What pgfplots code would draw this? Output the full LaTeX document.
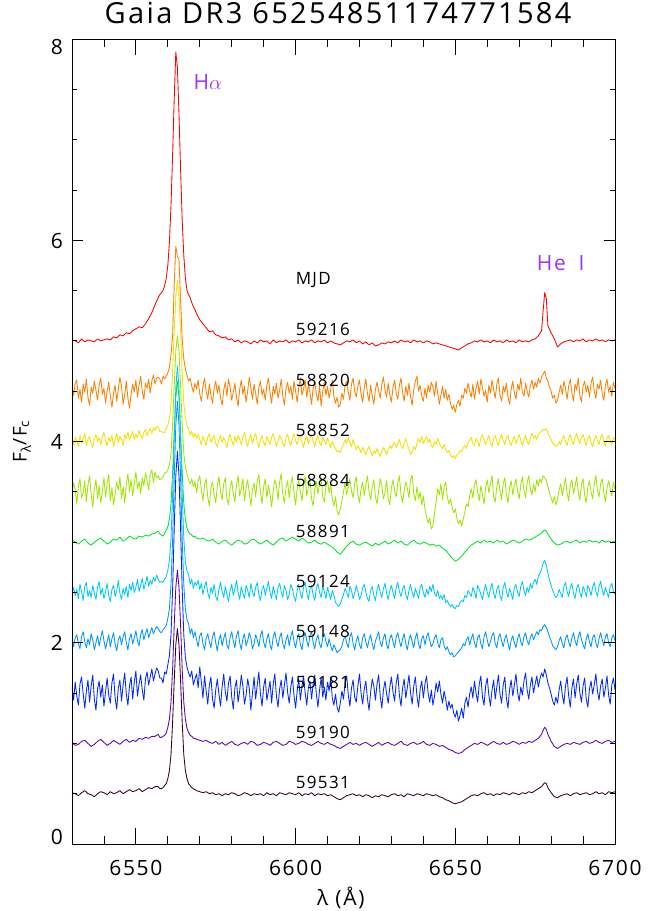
\documentclass[border=0pt]{standalone}
\usepackage{fontspec}
\setmainfont{Open Sans}[LetterSpace=8]
\usepackage{pgfplots}
\usepackage{pgfplotstable}
\pgfplotsset{compat=1.18}
\definecolor{cA}{RGB}{255,0,0}
\definecolor{cB}{RGB}{255,128,0}
\definecolor{cC}{RGB}{245,225,0}
\definecolor{cD}{RGB}{160,230,0}
\definecolor{cE}{RGB}{0,230,40}
\definecolor{cF}{RGB}{0,200,255}
\definecolor{cG}{RGB}{0,150,255}
\definecolor{cH}{RGB}{0,40,255}
\definecolor{cI}{RGB}{90,0,180}
\definecolor{cJ}{RGB}{50,0,40}
\definecolor{lbl}{RGB}{153,51,255}
% smoother spectra: 59216 (a), 58891 (e), 59190 (i), 59531 (j)
\pgfplotstableread{
x a e i j
6530 5.01 3.02 1.01 0.51
6531 5.00 3.00 0.98 0.50
6532 4.98 2.98 0.99 0.48
6533 5.02 3.01 1.02 0.51
6534 4.99 3.03 1.03 0.53
6535 5.01 2.99 1.00 0.50
6536 5.00 2.97 0.97 0.49
6537 4.99 3.00 0.99 0.47
6538 5.02 3.02 1.02 0.50
6539 5.00 3.04 1.04 0.52
6540 5.01 3.01 1.01 0.51
6541 5.02 2.98 0.98 0.49
6542 5.01 3.00 1.00 0.52
6543 5.04 3.03 1.03 0.50
6544 5.03 3.02 1.01 0.51
6545 5.06 3.05 0.99 0.53
6546 5.05 3.01 1.02 0.50
6547 5.08 3.03 1.04 0.52
6548 5.07 3.06 1.01 0.54
6549 5.10 3.04 1.03 0.52
6550 5.12 3.03 1.02 0.53
6551 5.14 3.06 1.05 0.55
6552 5.13 3.05 1.04 0.52
6553 5.17 3.07 1.06 0.54
6554 5.22 3.06 1.05 0.56
6555 5.28 3.08 1.07 0.55
6556 5.36 3.09 1.07 0.57
6557 5.43 3.11 1.09 0.57
6557.5 5.46 3.08 1.06 0.55
6558 5.48 3.07 1.06 0.55
6558.5 5.50 3.06 1.07 0.56
6559 5.55 3.09 1.08 0.58
6559.5 5.62 3.12 1.10 0.60
6560 5.75 3.15 1.16 0.65
6560.5 5.98 3.23 1.24 0.73
6561 6.35 3.38 1.41 0.89
6561.5 6.85 3.69 1.74 1.21
6562 7.40 4.09 2.17 1.62
6562.5 7.87 4.44 2.55 1.98
6563 7.72 4.60 2.72 2.14
6563.5 7.25 4.44 2.55 1.98
6564 6.70 4.09 2.17 1.62
6564.5 6.20 3.69 1.74 1.21
6565 5.85 3.38 1.41 0.89
6565.5 5.62 3.22 1.24 0.73
6566 5.50 3.14 1.15 0.65
6566.5 5.46 3.10 1.11 0.60
6567 5.43 3.08 1.08 0.58
6567.5 5.38 3.07 1.07 0.56
6568 5.34 3.05 1.05 0.55
6568.5 5.31 3.06 1.05 0.54
6569 5.27 3.04 1.04 0.53
6570 5.21 3.03 1.03 0.52
6571 5.17 3.04 1.02 0.51
6572 5.13 3.02 1.03 0.52
6573 5.09 3.01 1.01 0.50
6574 5.10 3.03 1.00 0.51
6575 5.06 3.00 1.02 0.49
6576 5.05 2.98 0.99 0.50
6577 5.03 3.01 1.01 0.48
6578 5.04 3.02 0.98 0.50
6579 5.01 2.99 1.00 0.49
6580 5.02 2.97 1.02 0.51
6581 4.99 3.00 0.99 0.50
6582 5.01 3.02 0.98 0.48
6583 4.98 3.01 1.00 0.49
6584 5.00 2.98 1.01 0.51
6585 4.99 2.99 0.99 0.50
6586 4.97 3.02 1.02 0.48
6587 5.00 3.03 1.01 0.50
6588 4.98 3.00 0.98 0.49
6589 5.01 2.98 0.99 0.50
6590 4.99 3.00 1.01 0.48
6591 5.00 3.02 1.00 0.51
6592 4.97 2.99 0.98 0.49
6593 5.01 2.97 1.01 0.50
6594 4.98 3.00 1.02 0.48
6595 5.00 3.03 1.00 0.51
6596 4.99 3.04 0.98 0.50
6597 5.01 3.01 0.99 0.49
6598 4.98 3.03 1.02 0.51
6599 5.00 3.05 1.01 0.50
6600 4.99 3.03 0.99 0.49
6601 5.01 3.01 1.00 0.51
6602 4.98 3.04 1.02 0.48
6603 5.00 3.02 1.01 0.50
6604 4.99 2.99 0.99 0.49
6605 5.01 3.00 0.98 0.51
6606 4.98 3.02 1.00 0.48
6607 5.00 2.99 1.02 0.50
6608 4.99 2.98 1.00 0.49
6609 5.01 3.00 0.99 0.50
6610 4.98 2.98 1.01 0.48
6611 5.00 2.96 0.99 0.49
6612 4.98 2.94 0.98 0.47
6613 4.97 2.90 0.96 0.45
6614 4.96 2.88 0.95 0.44
6615 4.98 2.92 0.97 0.46
6616 5.00 2.96 0.99 0.48
6617 4.99 2.99 1.01 0.49
6618 5.01 3.01 0.99 0.50
6619 4.98 2.98 1.00 0.48
6620 5.00 2.97 0.98 0.49
6621 4.97 2.99 1.00 0.47
6622 4.99 3.00 1.01 0.49
6623 4.96 2.98 0.99 0.48
6624 4.98 2.96 0.97 0.46
6625 4.95 2.99 0.99 0.48
6626 4.96 2.97 1.01 0.47
6627 4.98 2.99 0.98 0.49
6628 4.97 3.01 1.00 0.48
6629 4.99 2.98 1.01 0.47
6630 4.98 3.00 0.99 0.49
6631 5.00 3.02 0.98 0.50
6632 4.98 2.99 1.00 0.48
6633 5.01 3.01 1.02 0.49
6634 4.99 2.98 0.99 0.47
6635 5.00 2.97 0.98 0.50
6636 4.98 3.00 1.00 0.49
6637 5.01 3.02 1.01 0.48
6638 4.99 2.99 0.99 0.50
6639 5.00 2.98 1.00 0.49
6640 4.98 3.00 1.02 0.48
6641 5.00 2.99 0.99 0.50
6642 4.99 2.97 0.98 0.49
6643 4.97 2.98 1.00 0.48
6644 4.98 2.96 0.99 0.49
6645 4.97 2.97 0.97 0.47
6646 4.96 2.94 0.98 0.46
6647 4.95 2.92 0.96 0.44
6648 4.94 2.88 0.94 0.43
6649 4.93 2.84 0.93 0.41
6650 4.92 2.81 0.91 0.40
6651 4.91 2.83 0.90 0.41
6652 4.93 2.86 0.91 0.42
6653 4.95 2.90 0.94 0.44
6654 4.97 2.94 0.96 0.46
6655 4.98 2.97 0.98 0.48
6656 5.00 2.99 1.00 0.49
6657 4.99 3.01 0.99 0.48
6658 5.01 2.99 1.01 0.50
6659 4.99 3.02 1.00 0.51
6660 5.00 3.00 0.98 0.49
6661 4.98 3.01 1.00 0.50
6662 5.01 2.99 1.02 0.48
6663 4.99 3.02 1.00 0.50
6664 5.00 3.00 0.99 0.49
6665 4.98 3.01 1.01 0.51
6666 5.01 2.98 0.99 0.50
6667 4.99 3.00 1.00 0.49
6668 5.00 3.02 1.02 0.51
6669 4.98 3.01 1.01 0.50
6670 5.01 2.99 0.99 0.49
6671 4.99 3.01 1.01 0.51
6672 5.00 3.03 1.00 0.50
6673 4.99 3.02 1.02 0.52
6674 5.01 3.03 1.01 0.51
6675 5.02 3.05 1.03 0.53
6676 5.05 3.07 1.05 0.55
6677 5.10 3.09 1.09 0.57
6677.5 5.30 3.11 1.13 0.59
6678 5.48 3.12 1.16 0.61
6678.5 5.42 3.11 1.14 0.60
6679 5.15 3.08 1.09 0.56
6680 5.08 3.03 1.02 0.51
6681 5.02 2.99 0.97 0.47
6682 4.94 2.97 0.95 0.46
6683 4.97 2.98 0.97 0.48
6684 4.99 3.00 0.99 0.49
6685 5.00 3.01 1.00 0.50
6686 5.01 2.99 0.99 0.48
6687 4.99 3.01 1.01 0.50
6688 5.01 3.02 1.00 0.51
6689 5.00 2.99 0.99 0.49
6690 5.02 3.01 1.01 0.50
6691 4.99 3.00 1.02 0.51
6692 5.01 3.02 1.00 0.49
6693 5.00 3.00 1.01 0.50
6694 5.02 3.01 1.03 0.52
6695 5.00 2.99 1.01 0.50
6696 5.01 3.02 1.00 0.51
6697 4.99 3.00 1.02 0.49
6698 5.01 3.01 1.03 0.52
6699 5.00 3.00 1.01 0.51
6700 5.01 3.01 1.02 0.52
}\smooth
% noisier spectra: 58820 (b), 58852 (c), 58884 (d), 59124 (f), 59148 (g), 59181 (h)
\pgfplotstableread{
x b c d f g h
6530.0 4.55 4.02 3.46 2.49 2.03 1.56
6530.5 4.46 3.97 3.59 2.55 1.96 1.43
6531.0 4.58 4.04 3.52 2.47 2.05 1.61
6531.5 4.61 4.01 3.38 2.53 2.08 1.47
6532.0 4.43 3.95 3.55 2.44 1.99 1.38
6532.5 4.52 4.06 3.63 2.58 1.94 1.59
6533.0 4.39 3.99 3.44 2.51 2.06 1.66
6533.5 4.57 4.03 3.49 2.42 2.11 1.49
6534.0 4.49 4.08 3.61 2.56 2.01 1.35
6534.5 4.62 3.96 3.40 2.60 1.95 1.52
6535.0 4.44 4.02 3.57 2.46 2.04 1.63
6535.5 4.36 4.05 3.66 2.52 1.98 1.41
6536.0 4.54 3.98 3.47 2.45 2.09 1.57
6536.5 4.48 3.94 3.35 2.57 2.03 1.68
6537.0 4.60 4.03 3.53 2.49 1.93 1.44
6537.5 4.51 4.07 3.62 2.43 2.00 1.33
6538.0 4.41 4.00 3.43 2.55 2.07 1.54
6538.5 4.56 4.04 3.56 2.61 1.97 1.62
6539.0 4.63 3.97 3.39 2.48 2.05 1.46
6539.5 4.47 4.05 3.50 2.54 2.12 1.58
6540.0 4.53 4.09 3.64 2.44 2.02 1.37
6540.5 4.38 4.01 3.45 2.50 1.94 1.51
6541.0 4.50 3.96 3.58 2.59 2.01 1.65
6541.5 4.59 4.04 3.67 2.47 2.08 1.48
6542.0 4.45 4.00 3.41 2.41 1.96 1.40
6542.5 4.34 4.06 3.54 2.53 2.04 1.60
6543.0 4.48 3.95 3.37 2.57 2.10 1.69
6543.5 4.56 4.02 3.48 2.46 1.99 1.45
6544.0 4.40 4.08 3.60 2.51 1.92 1.34
6544.5 4.52 3.99 3.52 2.62 2.03 1.55
6545.0 4.64 4.05 3.65 2.49 2.07 1.63
6545.5 4.55 4.02 3.43 2.43 1.98 1.42
6546.0 4.37 3.96 3.55 2.54 2.06 1.58
6546.5 4.46 4.07 3.39 2.48 2.11 1.70
6547.0 4.60 4.03 3.57 2.56 2.00 1.49
6547.5 4.43 4.09 3.68 2.45 1.93 1.38
6548.0 4.33 4.01 3.50 2.58 2.04 1.57
6548.5 4.47 4.06 3.62 2.52 2.09 1.66
6549.0 4.57 4.10 3.46 2.60 1.99 1.44
6549.5 4.49 4.02 3.59 2.50 2.05 1.61
6550.0 4.61 4.07 3.70 2.55 2.12 1.72
6550.5 4.44 4.04 3.53 2.63 2.02 1.47
6551.0 4.56 4.11 3.60 2.51 1.97 1.59
6551.5 4.65 4.06 3.48 2.57 2.08 1.68
6552.0 4.50 4.03 3.64 2.64 2.13 1.53
6552.5 4.42 4.09 3.56 2.53 2.03 1.43
6553.0 4.58 4.12 3.69 2.59 2.09 1.64
6553.5 4.53 4.06 3.61 2.66 2.14 1.71
6554.0 4.62 4.10 3.52 2.56 2.05 1.58
6554.5 4.48 4.13 3.67 2.62 2.10 1.66
6555.0 4.60 4.08 3.72 2.58 2.15 1.74
6555.5 4.66 4.14 3.59 2.65 2.09 1.62
6556.0 4.57 4.11 3.70 2.61 2.13 1.69
6556.5 4.63 4.15 3.64 2.67 2.16 1.75
6557.0 4.64 4.14 3.66 2.63 2.14 1.72
6557.5 4.62 4.10 3.62 2.60 2.11 1.65
6558.0 4.57 4.10 3.63 2.61 2.10 1.65
6558.5 4.65 4.09 3.65 2.60 2.13 1.60
6559.0 4.62 4.09 3.69 2.63 2.15 1.71
6559.5 4.65 4.13 3.69 2.66 2.17 1.69
6560.0 4.68 4.16 3.72 2.72 2.24 1.78
6560.5 4.74 4.23 3.77 2.82 2.34 1.87
6561.0 4.86 4.38 3.88 3.04 2.58 2.08
6561.5 5.05 4.69 4.17 3.47 3.03 2.53
6562.0 5.55 5.09 4.55 4.03 3.63 3.13
6562.5 5.94 5.44 4.90 4.53 4.16 3.66
6563.0 5.84 5.60 5.05 4.75 4.40 3.90
6563.5 5.81 5.44 4.90 4.53 4.16 3.66
6564.0 5.40 5.09 4.55 4.03 3.63 3.13
6564.5 5.02 4.69 4.17 3.47 3.03 2.53
6565.0 4.82 4.38 3.88 3.04 2.58 2.08
6565.5 4.72 4.23 3.75 2.80 2.33 1.85
6566.0 4.66 4.15 3.68 2.71 2.23 1.76
6566.5 4.60 4.13 3.62 2.68 2.19 1.70
6567.0 4.63 4.06 3.58 2.58 2.09 1.66
6567.5 4.55 4.10 3.63 2.63 2.14 1.72
6568.0 4.49 4.04 3.55 2.54 2.05 1.58
6568.5 4.58 4.08 3.60 2.60 2.11 1.64
6569.0 4.52 4.03 3.49 2.57 2.03 1.69
6569.5 4.61 4.07 3.61 2.62 1.96 1.55
6570.0 4.47 4.02 3.66 2.53 2.07 1.76
6570.5 4.40 3.97 3.52 2.59 2.10 1.61
6571.0 4.55 4.05 3.41 2.48 1.99 1.45
6571.5 4.63 4.01 3.57 2.56 1.93 1.67
6572.0 4.50 3.96 3.63 2.61 2.04 1.52
6572.5 4.42 4.04 3.45 2.50 2.09 1.39
6573.0 4.57 4.08 3.36 2.44 2.01 1.58
6573.5 4.46 3.99 3.54 2.55 1.95 1.66
6574.0 4.38 4.03 3.60 2.49 2.06 1.44
6574.5 4.53 4.06 3.47 2.58 2.11 1.35
6575.0 4.60 3.98 3.39 2.46 2.00 1.53
6575.5 4.48 3.95 3.56 2.42 1.92 1.64
6576.0 4.56 4.02 3.65 2.53 2.03 1.49
6576.5 4.43 4.06 3.50 2.60 2.08 1.37
6577.0 4.36 3.99 3.42 2.51 1.97 1.56
6577.5 4.51 4.04 3.58 2.45 2.04 1.69
6578.0 4.59 4.00 3.64 2.56 2.10 1.51
6578.5 4.45 3.94 3.43 2.48 1.98 1.42
6579.0 4.62 4.03 3.37 2.41 1.94 1.60
6579.5 4.54 4.07 3.55 2.52 2.05 1.67
6580.0 4.41 4.01 3.61 2.58 2.11 1.46
6580.5 4.49 3.96 3.48 2.47 2.02 1.34
6581.0 4.58 4.05 3.40 2.54 1.95 1.55
6581.5 4.44 3.99 3.57 2.62 2.07 1.63
6582.0 4.35 4.06 3.66 2.50 2.12 1.41
6582.5 4.52 4.02 3.46 2.43 2.00 1.52
6583.0 4.61 3.97 3.53 2.56 1.93 1.68
6583.5 4.47 4.04 3.63 2.49 2.04 1.57
6584.0 4.55 4.09 3.41 2.44 2.09 1.39
6584.5 4.39 4.01 3.54 2.57 1.97 1.48
6585.0 4.50 3.95 3.62 2.52 2.02 1.64
6585.5 4.64 4.03 3.49 2.45 2.10 1.55
6586.0 4.53 4.07 3.36 2.59 2.05 1.33
6586.5 4.42 3.98 3.52 2.51 1.94 1.50
6587.0 4.57 4.04 3.59 2.46 1.99 1.66
6587.5 4.48 4.08 3.45 2.55 2.08 1.44
6588.0 4.37 4.00 3.61 2.60 2.03 1.58
6588.5 4.54 3.94 3.67 2.48 1.96 1.71
6589.0 4.60 4.02 3.50 2.42 2.07 1.49
6589.5 4.46 4.06 3.38 2.53 2.12 1.37
6590.0 4.52 3.99 3.55 2.57 2.01 1.56
6590.5 4.41 3.96 3.63 2.47 1.95 1.65
6591.0 4.56 4.05 3.44 2.54 2.04 1.43
6591.5 4.63 4.01 3.57 2.61 2.09 1.52
6592.0 4.49 3.97 3.48 2.50 1.98 1.62
6592.5 4.38 4.04 3.35 2.44 1.93 1.40
6593.0 4.55 4.08 3.51 2.56 2.06 1.59
6593.5 4.47 4.02 3.62 2.49 2.11 1.69
6594.0 4.58 3.95 3.56 2.43 2.02 1.47
6594.5 4.43 4.00 3.42 2.55 1.96 1.36
6595.0 4.51 4.06 3.60 2.59 2.05 1.54
6595.5 4.62 4.03 3.68 2.51 2.10 1.63
6596.0 4.45 3.98 3.47 2.45 1.99 1.45
6596.5 4.36 3.95 3.39 2.57 1.94 1.58
6597.0 4.53 4.04 3.54 2.52 2.03 1.70
6597.5 4.59 4.07 3.61 2.43 2.08 1.51
6598.0 4.48 4.00 3.44 2.48 1.97 1.40
6598.5 4.55 3.96 3.58 2.58 2.06 1.56
6599.0 4.42 4.03 3.65 2.54 2.12 1.66
6599.5 4.60 4.08 3.49 2.46 2.01 1.48
6600.0 4.50 4.01 3.37 2.41 1.95 1.35
6600.5 4.39 3.97 3.53 2.52 2.04 1.52
6601.0 4.54 4.04 3.62 2.58 2.09 1.64
6601.5 4.63 4.06 3.50 2.49 1.98 1.43
6602.0 4.46 3.99 3.41 2.44 1.93 1.57
6602.5 4.52 3.94 3.57 2.55 2.05 1.67
6603.0 4.61 4.02 3.66 2.60 2.10 1.50
6603.5 4.44 4.05 3.46 2.50 2.02 1.38
6604.0 4.57 3.98 3.55 2.43 1.96 1.55
6604.5 4.49 4.03 3.63 2.53 2.07 1.62
6605.0 4.37 4.07 3.43 2.57 2.11 1.44
6605.5 4.53 4.00 3.36 2.47 2.00 1.59
6606.0 4.60 3.95 3.52 2.42 1.94 1.68
6606.5 4.47 4.02 3.60 2.54 2.03 1.49
6607.0 4.40 4.06 3.48 2.59 2.08 1.36
6607.5 4.56 3.99 3.58 2.50 1.99 1.53
6608.0 4.35 3.96 3.64 2.45 1.95 1.65
6608.5 4.50 4.04 3.45 2.56 2.05 1.46
6609.0 4.59 4.01 3.40 2.51 2.09 1.56
6609.5 4.46 3.97 3.56 2.44 2.01 1.43
6610.0 4.55 4.03 3.61 2.55 1.96 1.61
6610.5 4.43 3.99 3.49 2.49 2.04 1.52
6611.0 4.52 3.94 3.58 2.43 1.97 1.66
6611.5 4.61 4.00 3.42 2.52 1.92 1.45
6612.0 4.45 3.96 3.36 2.47 1.98 1.38
6612.5 4.38 3.93 3.45 2.40 1.94 1.49
6613.0 4.44 3.90 3.31 2.38 1.90 1.36
6613.5 4.34 3.91 3.27 2.36 1.92 1.31
6614.0 4.37 3.89 3.33 2.39 1.93 1.40
6614.5 4.48 3.94 3.41 2.43 1.97 1.52
6615.0 4.42 3.97 3.50 2.48 2.03 1.44
6615.5 4.56 4.02 3.59 2.54 2.07 1.60
6616.0 4.60 3.98 3.47 2.50 2.00 1.67
6616.5 4.49 4.04 3.55 2.45 1.95 1.48
6617.0 4.41 3.99 3.63 2.56 2.06 1.37
6617.5 4.57 3.95 3.51 2.52 2.10 1.55
6618.0 4.63 4.02 3.44 2.44 1.99 1.63
6618.5 4.50 3.97 3.58 2.49 1.93 1.46
6619.0 4.44 3.92 3.65 2.57 2.02 1.41
6619.5 4.55 3.96 3.48 2.51 2.07 1.57
6620.0 4.61 3.93 3.39 2.43 1.98 1.69
6620.5 4.47 3.89 3.53 2.47 1.94 1.50
6621.0 4.39 3.94 3.60 2.55 2.05 1.39
6621.5 4.53 3.91 3.46 2.58 2.09 1.54
6622.0 4.62 3.87 3.57 2.50 2.01 1.62
6622.5 4.48 3.92 3.66 2.44 1.95 1.44
6623.0 4.40 3.95 3.50 2.41 2.03 1.33
6623.5 4.56 3.90 3.42 2.52 2.08 1.51
6624.0 4.45 3.86 3.55 2.56 1.99 1.64
6624.5 4.37 3.91 3.62 2.47 1.93 1.57
6625.0 4.52 3.88 3.45 2.42 2.02 1.43
6625.5 4.59 3.93 3.38 2.53 2.06 1.59
6626.0 4.50 3.89 3.51 2.58 2.11 1.68
6626.5 4.43 3.85 3.63 2.50 2.00 1.47
6627.0 4.57 3.90 3.56 2.45 1.96 1.35
6627.5 4.64 3.94 3.43 2.54 2.05 1.53
6628.0 4.51 3.91 3.49 2.59 2.09 1.62
6628.5 4.44 3.87 3.61 2.49 1.98 1.49
6629.0 4.58 3.92 3.44 2.43 1.94 1.40
6629.5 4.47 3.96 3.37 2.52 2.04 1.56
6630.0 4.39 3.93 3.54 2.57 2.08 1.66
6630.5 4.54 3.97 3.62 2.50 2.01 1.51
6631.0 4.61 3.99 3.51 2.44 1.95 1.42
6631.5 4.48 3.94 3.45 2.55 2.06 1.60
6632.0 4.42 3.98 3.59 2.60 2.10 1.69
6632.5 4.56 4.02 3.66 2.51 2.02 1.48
6633.0 4.63 3.96 3.47 2.46 1.96 1.37
6633.5 4.49 3.93 3.39 2.53 2.04 1.55
6634.0 4.40 3.99 3.52 2.57 2.09 1.64
6634.5 4.55 4.03 3.60 2.48 1.99 1.45
6635.0 4.46 3.97 3.53 2.43 1.93 1.56
6635.5 4.58 3.92 3.44 2.52 2.03 1.68
6636.0 4.44 3.87 3.62 2.58 2.08 1.50
6636.5 4.36 3.90 3.67 2.50 2.01 1.39
6637.0 4.52 3.95 3.48 2.45 1.95 1.57
6637.5 4.60 3.92 3.41 2.54 2.05 1.66
6638.0 4.65 3.98 3.55 2.49 2.10 1.47
6638.5 4.50 4.03 3.43 2.44 1.99 1.36
6639.0 4.56 3.99 3.50 2.55 1.94 1.54
6639.5 4.45 4.05 3.37 2.58 2.04 1.62
6640.0 4.40 3.98 3.46 2.50 2.07 1.45
6640.5 4.53 4.02 3.33 2.45 1.98 1.59
6641.0 4.43 4.05 3.25 2.53 2.06 1.67
6641.5 4.56 3.99 3.19 2.48 2.10 1.50
6642.0 4.49 4.02 3.24 2.56 2.02 1.41
6642.5 4.59 3.96 3.13 2.51 1.96 1.53
6643.0 4.54 3.94 3.16 2.58 1.99 1.38
6643.5 4.45 4.00 3.29 2.49 2.05 1.47
6644.0 4.60 3.97 3.40 2.46 2.08 1.60
6644.5 4.48 4.03 3.53 2.52 2.00 1.51
6645.0 4.37 3.98 3.47 2.44 1.95 1.62
6645.5 4.46 3.95 3.58 2.47 2.03 1.49
6646.0 4.55 3.93 3.42 2.43 2.05 1.40
6646.5 4.43 3.97 3.55 2.48 1.97 1.52
6647.0 4.52 3.92 3.60 2.40 1.93 1.44
6647.5 4.41 3.89 3.45 2.42 1.96 1.33
6648.0 4.47 3.91 3.38 2.38 1.91 1.42
6648.5 4.38 3.87 3.43 2.36 1.88 1.35
6649.0 4.32 3.84 3.35 2.38 1.90 1.39
6649.5 4.36 3.86 3.29 2.35 1.86 1.30
6650.0 4.29 3.83 3.33 2.34 1.87 1.26
6650.5 4.37 3.87 3.24 2.37 1.89 1.33
6651.0 4.41 3.88 3.18 2.36 1.91 1.22
6651.5 4.35 3.91 3.22 2.40 1.93 1.28
6652.0 4.46 3.90 3.16 2.42 1.95 1.35
6652.5 4.43 3.94 3.23 2.41 1.99 1.25
6653.0 4.53 3.96 3.30 2.47 1.97 1.40
6653.5 4.48 3.93 3.38 2.45 2.03 1.46
6654.0 4.58 3.99 3.35 2.52 2.06 1.36
6654.5 4.50 4.02 3.46 2.49 1.98 1.49
6655.0 4.44 4.04 3.53 2.46 2.04 1.56
6655.5 4.57 3.98 3.44 2.55 2.09 1.45
6656.0 4.42 3.96 3.57 2.51 2.00 1.62
6656.5 4.53 4.03 3.62 2.44 1.95 1.50
6657.0 4.60 4.00 3.50 2.57 2.05 1.41
6657.5 4.47 3.95 3.41 2.53 2.08 1.59
6658.0 4.62 4.04 3.56 2.48 1.99 1.67
6658.5 4.54 4.07 3.47 2.43 1.94 1.46
6659.0 4.45 4.01 3.38 2.52 2.06 1.38
6659.5 4.51 3.97 3.54 2.58 2.11 1.57
6660.0 4.39 4.02 3.62 2.50 2.03 1.65
6660.5 4.56 4.06 3.49 2.45 1.96 1.48
6661.0 4.48 3.99 3.58 2.54 2.01 1.37
6661.5 4.61 3.95 3.66 2.59 2.07 1.53
6662.0 4.52 4.03 3.45 2.49 2.10 1.63
6662.5 4.43 4.06 3.40 2.44 1.99 1.44
6663.0 4.57 4.00 3.55 2.53 1.95 1.56
6663.5 4.63 3.96 3.63 2.57 2.05 1.68
6664.0 4.46 4.03 3.51 2.47 2.09 1.49
6664.5 4.40 4.07 3.42 2.42 2.02 1.40
6665.0 4.55 4.01 3.58 2.55 1.96 1.58
6665.5 4.49 3.97 3.64 2.60 2.04 1.66
6666.0 4.58 4.04 3.48 2.51 2.08 1.45
6666.5 4.44 4.06 3.39 2.45 1.99 1.35
6667.0 4.37 3.99 3.54 2.54 1.93 1.54
6667.5 4.52 3.96 3.61 2.49 2.03 1.63
6668.0 4.60 4.02 3.47 2.43 2.07 1.47
6668.5 4.48 4.05 3.56 2.55 2.00 1.58
6669.0 4.42 3.98 3.63 2.58 1.95 1.69
6669.5 4.57 4.03 3.50 2.50 2.04 1.51
6670.0 4.51 4.07 3.43 2.46 2.09 1.42
6670.5 4.63 4.01 3.57 2.56 2.01 1.56
6671.0 4.49 3.96 3.65 2.61 1.97 1.48
6671.5 4.45 4.02 3.52 2.52 2.06 1.62
6672.0 4.58 4.06 3.44 2.47 2.10 1.70
6672.5 4.50 4.00 3.59 2.55 2.02 1.53
6673.0 4.44 3.97 3.66 2.50 1.98 1.44
6673.5 4.56 4.04 3.53 2.59 2.05 1.58
6674.0 4.61 4.08 3.47 2.54 2.09 1.66
6674.5 4.52 4.03 3.58 2.60 2.03 1.50
6675.0 4.59 4.06 3.50 2.63 2.07 1.59
6675.5 4.54 4.02 3.62 2.58 2.11 1.67
6676.0 4.63 4.07 3.56 2.66 2.08 1.56
6676.5 4.58 4.09 3.63 2.69 2.13 1.64
6677.0 4.64 4.10 3.59 2.73 2.12 1.70
6677.5 4.67 4.12 3.66 2.79 2.16 1.66
6678.0 4.70 4.11 3.64 2.82 2.18 1.74
6678.5 4.63 4.13 3.61 2.77 2.15 1.68
6679.0 4.60 4.08 3.55 2.69 2.11 1.60
6679.5 4.54 4.05 3.49 2.62 2.06 1.55
6680.0 4.50 4.02 3.44 2.57 2.02 1.49
6680.5 4.43 3.98 3.39 2.52 1.97 1.42
6681.0 4.46 3.97 3.45 2.48 1.95 1.38
6681.5 4.38 3.95 3.37 2.45 1.93 1.46
6682.0 4.41 3.96 3.43 2.47 1.96 1.40
6682.5 4.49 4.00 3.52 2.53 2.02 1.53
6683.0 4.56 3.97 3.58 2.49 2.06 1.62
6683.5 4.47 4.03 3.46 2.45 1.99 1.48
6684.0 4.60 4.06 3.55 2.56 1.95 1.39
6684.5 4.53 4.00 3.64 2.60 2.04 1.57
6685.0 4.42 3.96 3.49 2.51 2.08 1.66
6685.5 4.55 4.03 3.41 2.46 2.01 1.47
6686.0 4.62 4.07 3.57 2.55 1.96 1.36
6686.5 4.48 4.01 3.62 2.59 2.05 1.55
6687.0 4.40 3.97 3.48 2.49 2.10 1.64
6687.5 4.57 4.04 3.56 2.44 2.02 1.45
6688.0 4.51 4.08 3.65 2.54 1.97 1.59
6688.5 4.63 4.02 3.50 2.58 2.06 1.68
6689.0 4.46 3.98 3.42 2.50 2.11 1.50
6689.5 4.39 4.04 3.58 2.45 2.03 1.41
6690.0 4.55 4.07 3.63 2.56 1.98 1.57
6690.5 4.60 4.01 3.47 2.52 1.94 1.65
6691.0 4.49 3.96 3.39 2.46 2.04 1.44
6691.5 4.56 4.03 3.55 2.57 2.09 1.36
6692.0 4.44 4.06 3.61 2.53 2.01 1.54
6692.5 4.58 3.99 3.50 2.47 1.96 1.62
6693.0 4.64 3.95 3.43 2.55 2.05 1.49
6693.5 4.50 4.02 3.57 2.60 2.08 1.58
6694.0 4.43 4.06 3.66 2.51 2.00 1.69
6694.5 4.57 4.01 3.52 2.46 1.95 1.52
6695.0 4.52 3.97 3.45 2.56 2.04 1.43
6695.5 4.61 4.04 3.58 2.61 2.10 1.57
6696.0 4.47 4.07 3.63 2.52 2.03 1.64
6696.5 4.41 4.00 3.49 2.47 1.97 1.46
6697.0 4.56 3.96 3.40 2.55 2.06 1.55
6697.5 4.62 4.03 3.54 2.50 2.09 1.67
6698.0 4.49 4.06 3.61 2.45 2.00 1.48
6698.5 4.55 4.01 3.53 2.56 1.96 1.39
6699.0 4.45 3.97 3.46 2.59 2.05 1.58
6699.5 4.59 4.04 3.60 2.51 2.08 1.65
6700.0 4.53 4.02 3.52 2.48 2.02 1.53
}\noisy
\begin{document}
\begin{tikzpicture}
\useasboundingbox (-72pt,-67pt) rectangle (598pt,844pt);
\pgfplotsset{
  common/.style={
    at={(0,0)}, anchor=south west,
    scale only axis, width=543pt, height=805pt,
    xmin=6530, xmax=6700, ymin=0, ymax=8,
    axis line style={line width=0.9pt, black},
    tick align=inside,
  }
}
% data, labels, text
\begin{axis}[common,
  xtick={6550,6600,6650,6700},
  xticklabels={6550,6600,6650,6700},
  xtick style={draw=none},
  ytick={0,2,4,6,8},
  yticklabels={{\raisebox{8pt}{0}},2,4,6,{\raisebox{-7pt}{8}}},
  ytick style={draw=none},
  xticklabel style={font=\fontsize{21}{21}\selectfont, anchor=base, yshift=-31pt, inner sep=0pt},
  yticklabel style={font=\fontsize{21}{21}\selectfont, anchor=base east, xshift=-9pt, yshift=-8pt, inner sep=0pt},
  title={Gaia DR3 65254851174771584},
  title style={font=\fontsize{29}{30}\selectfont, at={(axis description cs:0.49,1)}, anchor=base, yshift=10pt, inner sep=0pt},
  xlabel={λ (Å)},
  xlabel style={font=\fontsize{21}{21}\selectfont, at={(axis description cs:0.495,0)}, anchor=base, yshift=-61pt, inner sep=0pt},
  ylabel={F\textsubscript{λ}/F\textsubscript{c}},
  ylabel style={font=\fontsize{19}{19}\selectfont, at={(axis description cs:-0.092,0.5)}, anchor=center, inner sep=0pt},
  every axis plot/.append style={line width=0.85pt, line join=round},
]
\addplot[cA] table[x=x,y=a]{\smooth};
\addplot[cB] table[x=x,y=b]{\noisy};
\addplot[cC] table[x=x,y=c]{\noisy};
\addplot[cD] table[x=x,y=d]{\noisy};
\addplot[cE] table[x=x,y=e]{\smooth};
\addplot[cF] table[x=x,y=f]{\noisy};
\addplot[cG] table[x=x,y=g]{\noisy};
\addplot[cH] table[x=x,y=h]{\noisy};
\addplot[cI] table[x=x,y=i]{\smooth};
\addplot[cJ] table[x=x,y=j]{\smooth};
\begin{scope}[every node/.style={anchor=base west, inner sep=0pt, font=\fontsize{17}{17}\selectfont}]
\node at (axis cs:6600,5.56) {MJD};
\node at (axis cs:6600,5.05) {59216};
\node at (axis cs:6600,4.55) {58820};
\node at (axis cs:6600,4.05) {58852};
\node at (axis cs:6600,3.55) {58884};
\node at (axis cs:6600,3.05) {58891};
\node at (axis cs:6600,2.55) {59124};
\node at (axis cs:6600,2.05) {59148};
\node at (axis cs:6600,1.55) {59181};
\node at (axis cs:6600,1.05) {59190};
\node at (axis cs:6600,0.55) {59531};
\end{scope}
\node[anchor=base west, inner sep=0pt, text=lbl, font=\fontsize{21}{21}\selectfont] at (axis cs:6568,7.50) {H$\alpha$};
\node[anchor=base west, inner sep=0pt, text=lbl, font=\fontsize{21}{21}\selectfont] at (axis cs:6675.5,5.70) {He\hspace{0.6em}I};
\end{axis}
% x ticks (pgfplots ticks, longer: IDL ticklen relative to plot height)
\begin{axis}[common,
  xtick={6550,6600,6650,6700}, xticklabels={},
  minor xtick={6540,6560,6570,6580,6590,6610,6620,6630,6640,6660,6670,6680,6690},
  ytick=\empty,
  major tick length=16pt, minor tick length=8pt,
  xtick style={draw=black, line width=0.8pt},
]
\end{axis}
% y ticks (shorter)
\begin{axis}[common,
  xtick=\empty,
  ytick={0,2,4,6,8}, yticklabels={},
  minor ytick={0.5,1,1.5,2.5,3,3.5,4.5,5,5.5,6.5,7,7.5},
  major tick length=11pt, minor tick length=5.5pt,
  ytick style={draw=black, line width=0.8pt},
]
\end{axis}
\end{tikzpicture}
\end{document}
